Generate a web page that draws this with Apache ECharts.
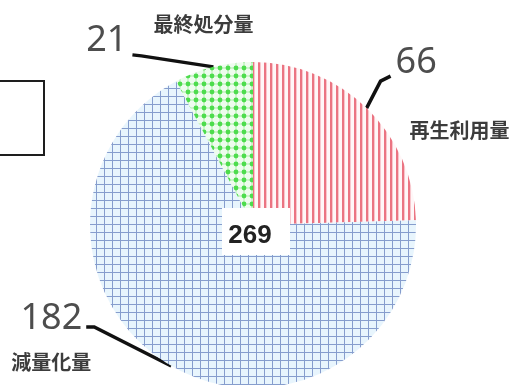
<!DOCTYPE html>
<html>
<head>
<meta charset="utf-8">
<script src="https://cdn.jsdelivr.net/npm/echarts@6/dist/echarts.min.js"></script>
<style>
  html, body { margin: 0; padding: 0; background: #ffffff; }
  #chart { width: 511px; height: 385px; }
</style>
</head>
<body>
<div id="chart"></div>
<script>
// Waste breakdown: recycled, reduced, final disposal
const categories = ['再生利用量', '減量化量', '最終処分量'];
const values = [66, 182, 21];

// Fill patterns for each slice, painted on small tiles
function makeTile(size, paint) {
  const c = document.createElement('canvas');
  c.width = size[0];
  c.height = size[1];
  paint(c.getContext('2d'), size[0], size[1]);
  return { image: c, repeat: 'repeat' };
}
const stripeFill = makeTile([6, 6], function (g, w, h) {
  g.fillStyle = '#fff6f7'; g.fillRect(0, 0, w, h);
  g.fillStyle = '#eb7482'; g.fillRect(0, 0, 2, h);
  g.fillStyle = '#f8c6cc'; g.fillRect(2, 0, 1, h);
});
const gridFill = makeTile([8, 8], function (g, w, h) {
  g.fillStyle = '#e8f5fd'; g.fillRect(0, 0, w, h);
  g.fillStyle = '#869dcd';
  g.fillRect(0, 0, w, 1);
  g.fillRect(0, 0, 1, h);
});
const dotFill = makeTile([8, 8], function (g, w, h) {
  g.fillStyle = '#eefcee'; g.fillRect(0, 0, w, h);
  g.fillStyle = '#cdf5cb';
  g.fillRect(0, 3, w, 2);
  g.fillRect(3, 0, 2, h);
  g.fillStyle = '#4ddc4d';
  g.beginPath(); g.arc(4, 4, 2.4, 0, Math.PI * 2); g.fill();
});
const sliceFills = [stripeFill, gridFill, dotFill];

const total = values.reduce(function (s, v) { return s + v; }, 0);

// Offsets from each slice's outer anchor point: value label and leader bends
const valueLayout = [
  { label: [29, -45], align: 'left', bend: [14, -27], end: [24, -32] },
  { label: [-89, -47], align: 'right', bend: [-77, -39], end: [-85, -39] },
  { label: [-86, -26], align: 'right', bend: [-72, -11], end: [-81, -12] }
];
const nameLayout = [
  { label: [93, 22] },
  { label: [-120, -4] },
  { label: [-10, -42] }
];

const pieCenter = [253, 225];
const pieRadius = 163;

const sliceData = categories.map(function (name, i) {
  return { name: name, value: values[i], itemStyle: { color: sliceFills[i] } };
});
const nameData = categories.map(function (name, i) {
  return { name: name, value: values[i] };
});

const chart = echarts.init(document.getElementById('chart'), null, { renderer: 'canvas' });
chart.setOption({
  animation: false,
  backgroundColor: '#ffffff',
  series: [
    {
      type: 'pie',
      center: pieCenter,
      radius: pieRadius,
      startAngle: 90,
      clockwise: true,
      avoidLabelOverlap: false,
      silent: true,
      data: sliceData,
      itemStyle: { borderWidth: 0 },
      label: {
        show: true,
        position: 'outside',
        formatter: '{c}',
        fontFamily: 'Noto Sans',
        fontSize: 36,
        color: '#4d4d4d'
      },
      labelLine: {
        show: true,
        length: 20,
        length2: 10,
        lineStyle: { color: '#111111', width: 3.5 }
      },
      labelLayout: function (p) {
        const a = p.labelLinePoints[0];
        const o = valueLayout[p.dataIndex];
        return {
          x: a[0] + o.label[0],
          y: a[1] + o.label[1],
          align: o.align,
          verticalAlign: 'middle',
          labelLinePoints: [
            a,
            [a[0] + o.bend[0], a[1] + o.bend[1]],
            [a[0] + o.end[0], a[1] + o.end[1]]
          ]
        };
      }
    },
    {
      type: 'pie',
      center: pieCenter,
      radius: pieRadius,
      startAngle: 90,
      clockwise: true,
      avoidLabelOverlap: false,
      silent: true,
      data: nameData,
      itemStyle: { color: 'rgba(0,0,0,0)', borderWidth: 0 },
      label: {
        show: true,
        position: 'outside',
        formatter: '{b}',
        fontFamily: 'Noto Sans CJK JP',
        fontWeight: 'bold',
        fontSize: 20,
        color: '#3c3c3c'
      },
      labelLine: {
        show: true,
        length: 10,
        length2: 5,
        lineStyle: { opacity: 0 }
      },
      labelLayout: function (p) {
        const a = p.labelLinePoints[0];
        const o = nameLayout[p.dataIndex];
        return {
          x: a[0] + o.label[0],
          y: a[1] + o.label[1],
          align: 'center',
          verticalAlign: 'middle'
        };
      }
    }
  ],
  graphic: [
    {
      type: 'rect',
      z: 50,
      shape: { x: -10, y: 81, width: 54, height: 74 },
      style: { fill: '#ffffff', stroke: '#1e1e1e', lineWidth: 2 }
    },
    {
      type: 'rect',
      z: 50,
      shape: { x: 222, y: 208, width: 68, height: 47 },
      style: { fill: '#ffffff' }
    },
    {
      type: 'text',
      z: 51,
      x: 250,
      y: 236,
      style: {
        text: String(total),
        fontFamily: 'Liberation Sans',
        fontWeight: 'bold',
        fontSize: 26,
        fill: '#222222',
        textAlign: 'center',
        textVerticalAlign: 'middle'
      }
    }
  ]
});
</script>
</body>
</html>
